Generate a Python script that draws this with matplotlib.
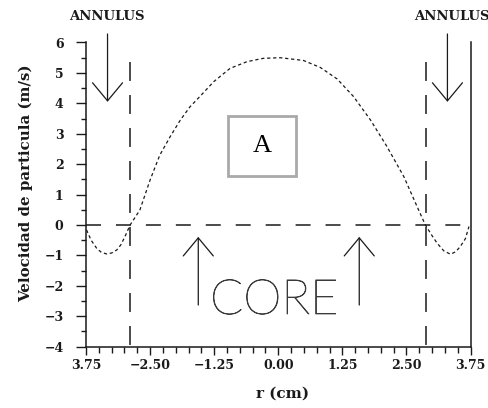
import matplotlib
matplotlib.use("Agg")
import matplotlib.pyplot as plt
import matplotlib.patheffects as pe
from matplotlib.patches import Rectangle
from matplotlib.ticker import MultipleLocator

# === Data ===
r_cm = [-3.74, -3.65, -3.54, -3.45, -3.35, -3.25, -3.15, -3.07, -2.99, -2.89,
        -2.70, -2.50, -2.31, -2.11, -1.91, -1.72, -1.52, -1.26, -0.94, -0.61,
        -0.29, 0.04, 0.49, 0.82, 1.15, 1.47, 1.80, 2.12, 2.45, 2.71,
        2.87, 3.00, 3.10, 3.23, 3.36, 3.46, 3.55, 3.65, 3.72]
velocidad = [-0.16, -0.50, -0.77, -0.90, -0.95, -0.92, -0.82, -0.65, -0.38, 0.00,
             0.49, 1.48, 2.30, 2.90, 3.45, 3.89, 4.24, 4.71, 5.15, 5.37,
             5.48, 5.50, 5.41, 5.18, 4.80, 4.22, 3.45, 2.58, 1.59, 0.60,
             0.00, -0.35, -0.60, -0.85, -0.96, -0.88, -0.71, -0.45, -0.05]

wall_r = [-2.90, 2.88]          # dashed core/annulus boundaries
wall_top = 5.36
annulus_r = [-3.33, 3.30]       # down arrows
annulus_y = (6.28, 4.05)
core_r = [-1.56, 1.58]          # up arrows
core_y = (-2.63, -0.39)

xticks = [-3.75, -2.50, -1.25, 0.00, 1.25, 2.50, 3.75]
xtick_labels = ["3.75", "\u22122.50", "\u22121.25", "0.00", "1.25", "2.50", "3.75"]
yticks = [6, 5, 4, 3, 2, 1, 0, -1, -2, -3, -4]
ytick_labels = ["6", "5", "4", "3", "2", "1", "0", "\u22121", "\u22122", "\u22123", "\u22124"]

ink = "#1a1a1a"
serif_bold = dict(family="DejaVu Serif", weight="bold")

fig = plt.figure(figsize=(4.89, 4.08), dpi=100)
ax = fig.add_axes([86 / 489, 1 - 346.7 / 408, 384.5 / 489, 304.2 / 408])
ax.set_xlim(-3.75, 3.75)
ax.set_ylim(-4, 6)

# curve and guide lines
ax.plot(r_cm, velocidad, color=ink, lw=0.9, linestyle=(0, (2.6, 2.2)))
ax.axhline(0, color=ink, lw=1.1, linestyle=(0, (9.8, 9.8)))
for xw in wall_r:
    ax.plot([xw, xw], [wall_top, -4], color=ink, lw=1.1, linestyle=(0, (12.4, 9.2)))

# arrows
arrow_kw = dict(arrowstyle="->, head_length=13.0, head_width=10.8", lw=0.9,
                color=ink, shrinkA=0, shrinkB=0, mutation_scale=1)
for xa in annulus_r:
    ax.annotate("", xy=(xa, annulus_y[1]), xytext=(xa, annulus_y[0]),
                arrowprops=arrow_kw, annotation_clip=False)
for xc in core_r:
    ax.annotate("", xy=(xc, core_y[1]), xytext=(xc, core_y[0]),
                arrowprops=arrow_kw)

# labels inside the plot
fig.text(107 / 489, 1 - 16 / 408, "ANNULUS", ha="center", va="center", fontsize=9.5,
         color=ink, **serif_bold)
fig.text(452 / 489, 1 - 16 / 408, "ANNULUS", ha="center", va="center", fontsize=9.5,
         color=ink, **serif_bold)
core = ax.text(-0.08, -2.48, "CORE", ha="center", va="center", fontsize=35, color="#3a3a3a",
               family="Lato", weight="light")
core.set_path_effects([pe.withStroke(linewidth=0.55, foreground="#3a3a3a")])

ax.add_patch(Rectangle((-0.98, 1.61), 1.326, 1.98, fill=False, ec="#a9a9a9", lw=2.0))
ax.text(-0.317, 2.6, "A", ha="center", va="center", fontsize=19,
        family="Liberation Serif", color="black")

# axes styling
ax.spines["top"].set_visible(False)
for s in ("left", "right", "bottom"):
    ax.spines[s].set_color(ink)
    ax.spines[s].set_linewidth(1.1)

ax.set_xticks(xticks)
ax.set_xticklabels(xtick_labels)
ax.set_yticks(yticks)
ax.set_yticklabels(ytick_labels)
ax.xaxis.set_minor_locator(MultipleLocator(0.25))
ax.yaxis.set_minor_locator(MultipleLocator(0.5))
ax.tick_params(axis="x", which="major", length=5.8, width=1.0, color=ink, pad=3)
ax.tick_params(axis="x", which="minor", length=4.0, width=1.0, color=ink)
ax.tick_params(axis="y", which="major", length=7.2, width=1.0, color=ink, pad=9)
ax.tick_params(axis="y", which="minor", length=3.6, width=1.0, color=ink)
for lab in ax.get_xticklabels() + ax.get_yticklabels():
    lab.set_fontfamily("DejaVu Serif")
    lab.set_fontweight("bold")
    lab.set_fontsize(9)
    lab.set_color(ink)

ax.set_xlabel("r (cm)", fontsize=11, color=ink, **serif_bold)
ax.set_ylabel("Velocidad de particula (m/s)", fontsize=10.8, color=ink, **serif_bold)
ax.xaxis.set_label_coords(0.511, -0.13)
ax.yaxis.set_label_coords(-0.138, 0.538)

fig.savefig("out.png", dpi=100)
